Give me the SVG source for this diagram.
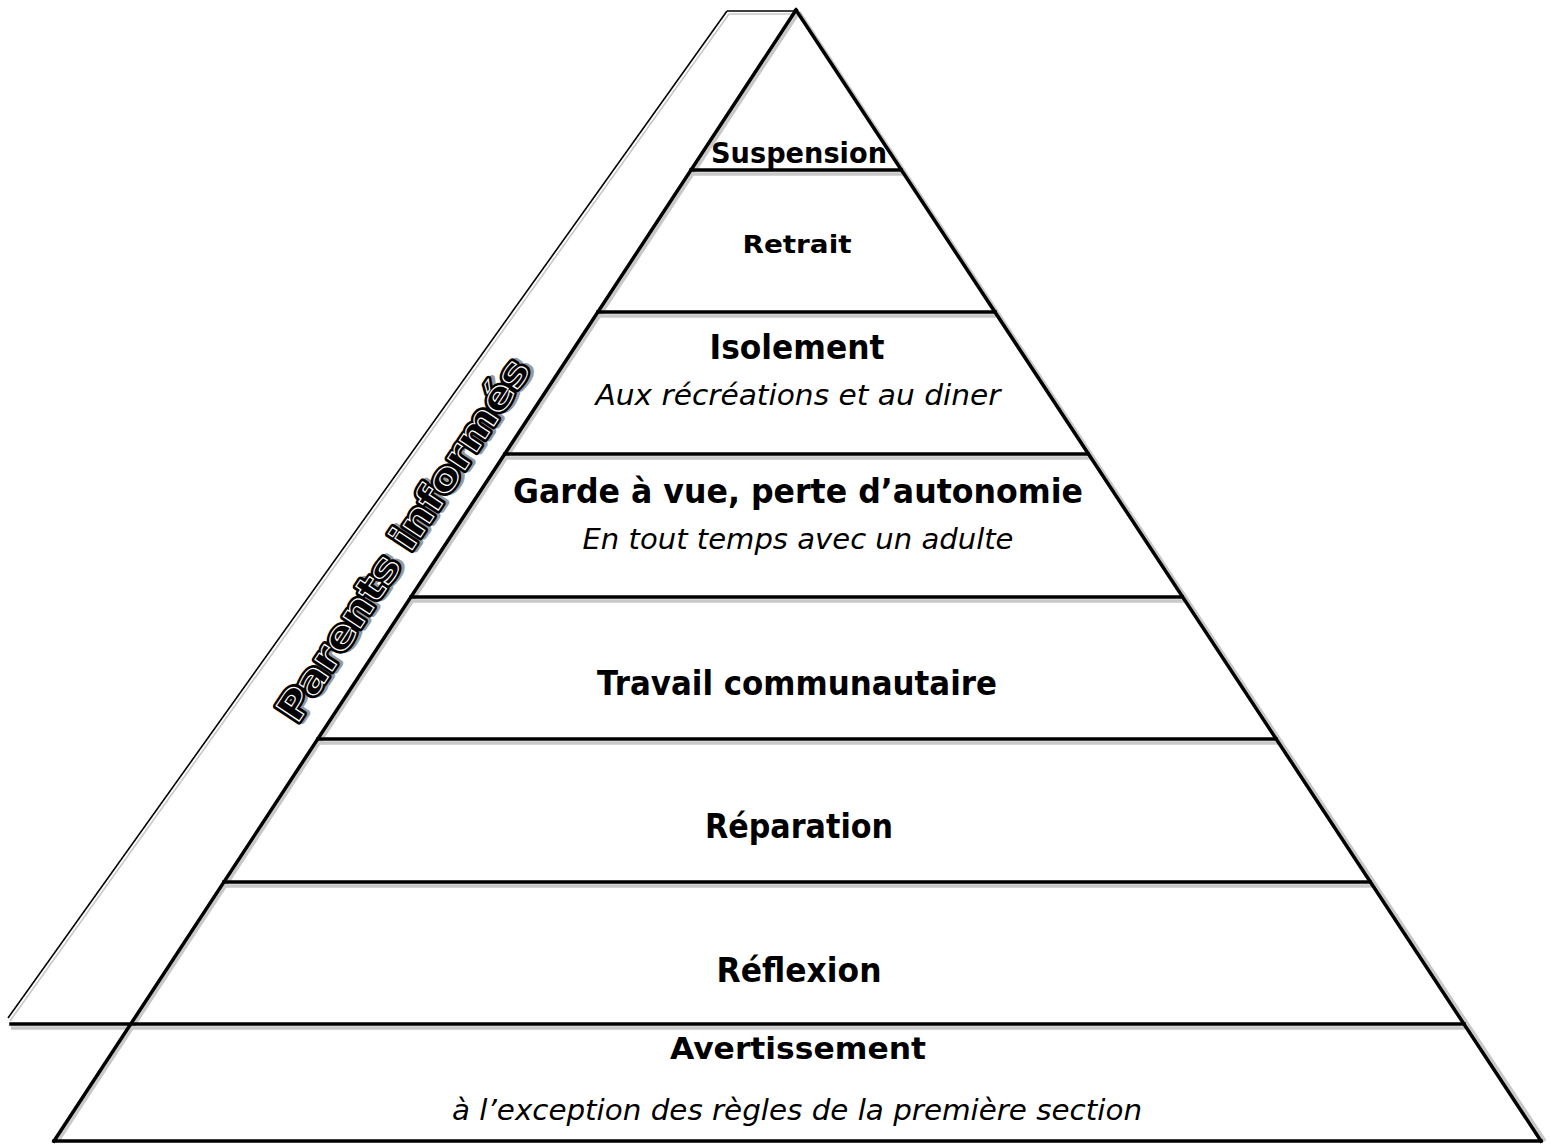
<svg xmlns="http://www.w3.org/2000/svg" width="1551" height="1146" viewBox="0 0 1551 1146">
<style>
.ln{stroke:#000;stroke-width:3.5;fill:none;stroke-linecap:square}
.thin{stroke:#000;stroke-width:1.6;fill:none}
.sh{stroke:#c8c8c8;stroke-width:3.5;fill:none}
.shthin{stroke:#c8c8c8;stroke-width:1.6;fill:none}
.b{font-family:"DejaVu Sans","Liberation Sans",sans-serif;font-weight:bold;fill:#000;text-anchor:middle}
.i{font-family:"DejaVu Sans","Liberation Sans",sans-serif;font-style:italic;fill:#000;text-anchor:middle}
.pi{font-family:"DejaVu Sans","Liberation Sans",sans-serif;font-weight:bold;text-anchor:middle;font-size:38px}
</style>
<rect width="1551" height="1146" fill="#fff"/>

<g id="band">
  <line class="shthin" x1="729" y1="14" x2="10" y2="1021"/>
  <line class="shthin" x1="729" y1="14" x2="799" y2="14"/>
  <line class="thin" x1="727" y1="11" x2="797" y2="11"/>
  <line class="thin" x1="727" y1="11" x2="8" y2="1018"/>
  <g transform="translate(403,540) rotate(-56.6)">
    <text class="pi" x="2.5" y="15.5" fill="#999" stroke="#999" stroke-width="6" stroke-linejoin="round" textLength="425" lengthAdjust="spacingAndGlyphs">Parents informés</text>
    <text class="pi" x="0" y="13" fill="#000" stroke="#000" stroke-width="6" stroke-linejoin="round" textLength="425" lengthAdjust="spacingAndGlyphs">Parents informés</text>
    <text class="pi" x="0" y="13" fill="none" stroke="#fff" stroke-width="1.1" textLength="425" lengthAdjust="spacingAndGlyphs">Parents informés</text>
  </g>
</g>

<g id="connectors">
  <g id="shadows">
    <line class="sh" x1="799" y1="12" x2="1545" y2="1141"/>
    <line class="sh" x1="799" y1="12" x2="58" y2="1141"/>
    <line class="sh" x1="693" y1="174" x2="903" y2="174"/>
    <line class="sh" x1="600" y1="316" x2="996" y2="316"/>
    <line class="sh" x1="507" y1="458" x2="1090" y2="458"/>
    <line class="sh" x1="413" y1="601" x2="1184" y2="601"/>
    <line class="sh" x1="320" y1="743" x2="1278" y2="743"/>
    <line class="sh" x1="226" y1="886" x2="1372" y2="886"/>
    <line class="sh" x1="11" y1="1028" x2="1465" y2="1028"/>
  </g>
  <line class="ln" x1="796" y1="10" x2="54" y2="1141"/>
  <line class="ln" x1="796" y1="10" x2="1541" y2="1141"/>
  <line class="ln" x1="54" y1="1141" x2="1541" y2="1141"/>
  <line class="ln" x1="691" y1="170" x2="901" y2="170"/>
  <line class="ln" x1="598" y1="312" x2="995" y2="312"/>
  <line class="ln" x1="505" y1="454" x2="1088" y2="454"/>
  <line class="ln" x1="411" y1="597" x2="1182" y2="597"/>
  <line class="ln" x1="318" y1="739" x2="1276" y2="739"/>
  <line class="ln" x1="224" y1="882" x2="1370" y2="882"/>
  <line class="ln" x1="11" y1="1024" x2="1464" y2="1024"/>
</g>

<g id="suspension"><text class="b" x="799" y="163" font-size="29" textLength="176" lengthAdjust="spacingAndGlyphs">Suspension</text></g>
<g id="retrait"><text class="b" x="797" y="253" font-size="25" textLength="109" lengthAdjust="spacingAndGlyphs">Retrait</text></g>
<g id="isolement">
  <text class="b" x="797" y="359" font-size="33" textLength="175" lengthAdjust="spacingAndGlyphs">Isolement</text>
  <text class="i" x="798" y="405" font-size="28" textLength="405" lengthAdjust="spacingAndGlyphs">Aux récréations et au diner</text>
</g>
<g id="garde">
  <text class="b" x="798" y="503" font-size="33" textLength="570" lengthAdjust="spacingAndGlyphs">Garde à vue, perte d’autonomie</text>
  <text class="i" x="798" y="549" font-size="28" textLength="431" lengthAdjust="spacingAndGlyphs">En tout temps avec un adulte</text>
</g>
<g id="travail"><text class="b" x="797" y="695" font-size="33" textLength="400" lengthAdjust="spacingAndGlyphs">Travail communautaire</text></g>
<g id="reparation"><text class="b" x="799" y="838" font-size="33" textLength="188" lengthAdjust="spacingAndGlyphs">Réparation</text></g>
<g id="reflexion"><text class="b" x="799" y="982" font-size="33" textLength="165" lengthAdjust="spacingAndGlyphs">Réflexion</text></g>
<g id="avertissement">
  <text class="b" x="798" y="1059" font-size="31" textLength="256" lengthAdjust="spacingAndGlyphs">Avertissement</text>
  <text class="i" x="797" y="1120" font-size="29" textLength="690" lengthAdjust="spacingAndGlyphs">à l’exception des règles de la première section</text>
</g>
</svg>
